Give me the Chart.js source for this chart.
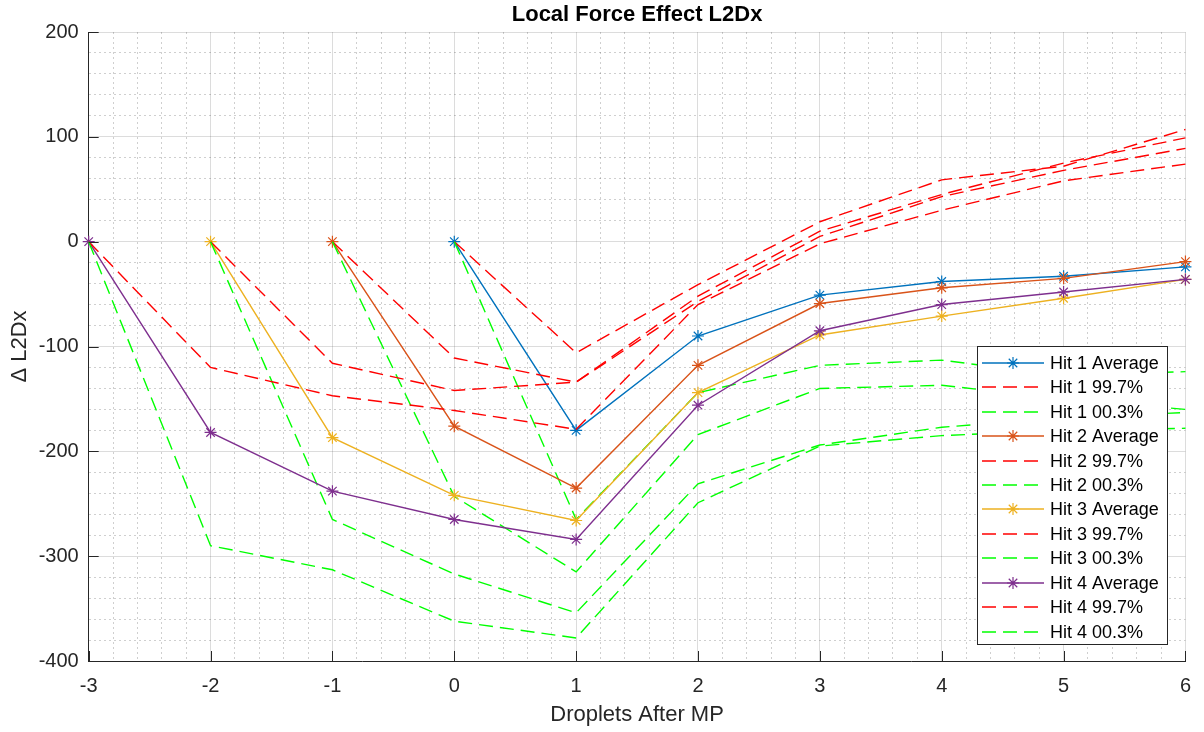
<!DOCTYPE html>
<html>
<head>
<meta charset="utf-8">
<script src="https://cdn.jsdelivr.net/npm/chart.js@4.4.1/dist/chart.umd.min.js"></script>
<style>
  html, body { margin: 0; padding: 0; background: #fff; }
</style>
</head>
<body>
<canvas id="c" width="1204" height="732"></canvas>
<script>
// ── DATA ─────────────────────────────────────────────────────
const FONT = "'Liberation Sans', Arial, Helvetica, sans-serif";
const axisCol = '#262626';

const xs = [-3, -2, -1, 0, 1, 2, 3, 4, 5, 6];

const hit1Avg = [null, null, null, 0, -180, -90, -51, -38, -33, -24];
const hit1Hi  = [null, null, null, 0, -106, -41, 19, 59, 72, 107];
const hit1Lo  = [null, null, null, 0, -265, -144, -118, -113, -128, -124];

const hit2Avg = [null, null, 0, -176, -235, -118, -59, -44, -35, -19];
const hit2Hi  = [null, null, 0, -111, -134, -52, 10, 45, 75, 99];
const hit2Lo  = [null, null, 0, -243, -315, -184, -140, -137, -150, -160];

const hit3Avg = [null, 0, -187, -242, -266, -144, -89, -71, -54, -36];
const hit3Hi  = [null, 0, -116, -142, -134, -57, 5, 43, 68, 89];
const hit3Lo  = [null, 0, -265, -317, -354, -231, -194, -177, -168, -163];

const hit4Avg = [0, -182, -238, -265, -284, -156, -85, -60, -48, -36];
const hit4Hi  = [0, -120, -147, -161, -179, -60, -2, 30, 58, 74];
const hit4Lo  = [0, -290, -313, -362, -378, -249, -195, -185, -180, -178];

const hitColors = ['#0072BD', '#D95319', '#EDB120', '#7E2F8E'];
const hiColor = '#FF0000', loColor = '#00FF00';

// ── HELPERS ──────────────────────────────────────────────────
const pts = arr => xs.map((x, i) => ({ x, y: arr[i] })).filter(p => p.y !== null);
const isMajorX = v => Math.abs(v - Math.round(v)) < 1e-6;
const isMajorY = v => Math.abs(v / 100 - Math.round(v / 100)) < 1e-6;
const dash = [14, 7];

const hits = [
  [hit1Avg, hit1Hi, hit1Lo],
  [hit2Avg, hit2Hi, hit2Lo],
  [hit3Avg, hit3Hi, hit3Lo],
  [hit4Avg, hit4Hi, hit4Lo]
];

const datasets = [];
hits.forEach(([avg, hi, lo], i) => {
  const col = hitColors[i];
  datasets.push({
    label: `Hit ${i + 1} Average`, data: pts(avg),
    borderColor: col, backgroundColor: col, borderWidth: 1.4,
    pointStyle: 'star', pointRadius: 6, pointBorderWidth: 1.2,
    pointBorderColor: col, pointBackgroundColor: col
  });
  datasets.push({
    label: `Hit ${i + 1} 99.7%`, data: pts(hi),
    borderColor: hiColor, borderWidth: 1.4, borderDash: dash, pointRadius: 0
  });
  datasets.push({
    label: `Hit ${i + 1} 00.3%`, data: pts(lo),
    borderColor: loColor, borderWidth: 1.4, borderDash: dash, pointRadius: 0
  });
});
// later series drawn on top, like the original plot
datasets.forEach((d, i) => { d.order = datasets.length - i; d.clip = false; d.tension = 0; d.fill = false; });

// ── PLUGINS ──────────────────────────────────────────────────
const boxLegend = {
  id: 'boxLegend',
  afterDatasetsDraw(chart) {
    const { ctx, chartArea: a } = chart;
    const w = 190, h = 298, rowH = 24.45;
    const left = Math.round(a.right - 18 - w), top = Math.round(a.bottom - 17 - h);
    ctx.save();
    ctx.fillStyle = '#fff';
    ctx.fillRect(left, top, w, h);
    ctx.strokeStyle = axisCol; ctx.lineWidth = 1;
    ctx.strokeRect(left + 0.5, top + 0.5, w, h);
    ctx.font = '18px ' + FONT;
    ctx.textBaseline = 'middle';
    chart.data.datasets.forEach((ds, i) => {
      const y = Math.round(top + 16.7 + i * rowH);
      ctx.strokeStyle = ds.borderColor; ctx.lineWidth = 1.5;
      ctx.setLineDash(ds.borderDash || []);
      ctx.beginPath(); ctx.moveTo(left + 5, y); ctx.lineTo(left + 67, y); ctx.stroke();
      ctx.setLineDash([]);
      if (ds.pointRadius) {
        ctx.strokeStyle = ds.borderColor; ctx.fillStyle = ds.borderColor; ctx.lineWidth = ds.pointBorderWidth;
        Chart.helpers.drawPoint(ctx, { pointStyle: ds.pointStyle, radius: ds.pointRadius, borderWidth: ds.pointBorderWidth }, left + 36, y);
      }
      ctx.fillStyle = '#000';
      ctx.fillText(ds.label, left + 73, y + 1);
    });
    ctx.restore();
  }
};

const innerTicks = {
  id: 'innerTicks',
  afterDraw(chart) {
    const { ctx, chartArea: a, scales: { x, y } } = chart;
    ctx.save();
    ctx.strokeStyle = axisCol; ctx.lineWidth = 1;
    ctx.beginPath();
    x.ticks.filter(t => isMajorX(t.value)).forEach(t => {
      const px = Math.round(x.getPixelForValue(t.value)) + 0.5;
      ctx.moveTo(px, a.bottom); ctx.lineTo(px, a.bottom - 10);
    });
    y.ticks.filter(t => isMajorY(t.value)).forEach(t => {
      const py = Math.round(y.getPixelForValue(t.value)) + 0.5;
      ctx.moveTo(a.left, py); ctx.lineTo(a.left + 10, py);
    });
    ctx.stroke();
    ctx.restore();
  }
};

const gridColor = (major) => major ? 'rgba(38,38,38,0.16)' : 'rgba(38,38,38,0.22)';

// ── CHART ────────────────────────────────────────────────────
new Chart(document.getElementById('c'), {
  type: 'line',
  data: { datasets },
  plugins: [boxLegend, innerTicks],
  options: {
    responsive: false,
    animation: false,
    layout: { padding: { left: 0, right: 17.3, top: 0, bottom: 0 } },
    plugins: {
      legend: { display: false },
      tooltip: { enabled: false },
      title: {
        display: true, fullSize: false,
        text: 'Local Force Effect L2Dx',
        color: '#000',
        font: { family: FONT, size: 22, weight: 'bold' },
        padding: { top: 2, bottom: 3.6 }
      }
    },
    scales: {
      x: {
        type: 'linear', min: -3, max: 6,
        afterFit: s => { s.height = 71; },
        ticks: {
          stepSize: 0.2, autoSkip: false, maxRotation: 0, padding: 13,
          color: axisCol, font: { family: FONT, size: 20 },
          callback: v => isMajorX(v) ? String(Math.round(v)) : ''
        },
        grid: {
          drawTicks: false, lineWidth: 1,
          color: c => gridColor(c.tick && isMajorX(c.tick.value))
        },
        border: {
          display: true, color: axisCol, width: 1,
          dash: c => (c.tick && !isMajorX(c.tick.value)) ? [2, 3] : []
        },
        title: {
          display: true, text: 'Droplets After MP', color: axisCol,
          font: { family: FONT, size: 22 }, padding: { top: 4, bottom: 4 }
        }
      },
      y: {
        type: 'linear', min: -400, max: 200,
        afterFit: s => { s.width = 88.7; },
        ticks: {
          stepSize: 20, autoSkip: false, padding: 10,
          color: axisCol, font: { family: FONT, size: 20 },
          callback: v => isMajorY(v) ? String(Math.round(v)) : ''
        },
        grid: {
          drawTicks: false, lineWidth: 1,
          color: c => gridColor(c.tick && isMajorY(c.tick.value))
        },
        border: {
          display: true, color: axisCol, width: 1,
          dash: c => (c.tick && !isMajorY(c.tick.value)) ? [2, 3] : []
        },
        title: {
          display: true, text: 'Δ L2Dx', color: axisCol,
          font: { family: FONT, size: 22 }, padding: { top: 6.3, bottom: 6.3 }
        }
      }
    }
  }
});
</script>
</body>
</html>
